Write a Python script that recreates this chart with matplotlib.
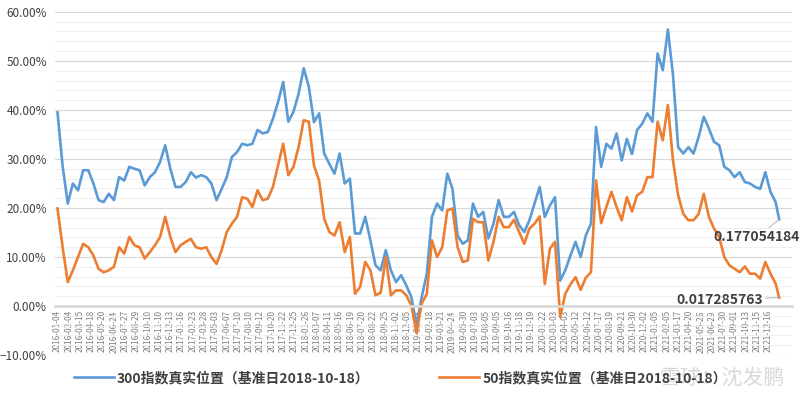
import matplotlib.pyplot as plt
import numpy as np
import matplotlib as mpl
from matplotlib.ticker import PercentFormatter

mpl.rcParams['font.family'] = ['Noto Sans CJK SC', 'DejaVu Sans']

# 数据：交易日序号（每10个交易日取一点，最后一点为末日），数值单位为%
day_idx = np.append(np.arange(0, 1401, 10), 1407)
hs300 = np.array([
    39.5, 28.5, 20.9, 25.0, 23.6, 27.7, 27.7, 25.0, 21.6, 21.2,
    22.9, 21.6, 26.3, 25.6, 28.4, 28.0, 27.7, 24.6, 26.3, 27.3,
    29.4, 32.8, 28.0, 24.3, 24.3, 25.3, 27.3, 26.2, 26.7, 26.3,
    25.0, 21.6, 23.9, 26.3, 30.4, 31.4, 33.1, 32.8, 33.1, 35.9,
    35.2, 35.5, 38.2, 41.6, 45.7, 37.6, 39.6, 43.3, 48.5, 44.7,
    37.5, 39.3, 31.1, 29.0, 27.0, 31.1, 25.0, 26.0, 14.8, 14.8,
    18.2, 13.4, 8.3, 7.3, 11.4, 7.3, 4.9, 6.3, 4.2, 1.8,
    -4.0, 1.8, 6.6, 18.2, 20.9, 19.5, 27.0, 23.9, 14.4, 12.7,
    13.4, 20.9, 18.2, 19.2, 13.8, 16.8, 21.6, 18.2, 18.2, 19.2,
    16.5, 15.1, 17.5, 20.9, 24.3, 18.2, 20.5, 22.2, 5.2, 7.3,
    10.3, 13.1, 10.0, 14.4, 16.8, 36.5, 28.4, 33.1, 32.1, 35.2,
    29.7, 34.1, 31.0, 35.9, 37.2, 39.3, 37.6, 51.5, 48.1, 56.4,
    47.1, 32.4, 31.1, 32.4, 31.1, 34.5, 38.6, 36.2, 33.5, 32.8,
    28.4, 27.7, 26.3, 27.3, 25.3, 25.0, 24.3, 23.9, 27.3, 23.3,
    21.2, 17.7054184]) / 100
sz50 = np.array([
    19.9, 12.0, 4.9, 7.3, 10.0, 12.7, 12.0, 10.3, 7.6, 6.9,
    7.3, 8.0, 12.0, 10.7, 14.1, 12.4, 12.0, 9.7, 11.0, 12.4,
    14.1, 18.2, 14.1, 11.0, 12.4, 13.1, 13.7, 12.0, 11.7, 12.0,
    10.0, 8.6, 11.4, 15.1, 16.8, 18.2, 22.2, 21.9, 20.2, 23.6,
    21.6, 21.9, 24.3, 28.7, 33.1, 26.7, 28.4, 32.4, 37.9, 37.6,
    28.7, 25.6, 17.8, 15.1, 14.4, 17.1, 11.0, 14.1, 2.5, 3.9,
    9.0, 7.3, 2.2, 2.7, 10.0, 2.2, 3.2, 3.2, 2.2, 0.1,
    -5.5, 0.5, 2.5, 13.4, 10.0, 12.0, 19.5, 19.9, 12.0, 9.0,
    9.3, 17.8, 17.1, 17.1, 9.3, 13.1, 18.2, 16.1, 16.1, 17.6,
    15.1, 12.7, 15.8, 16.8, 18.3, 4.5, 11.7, 13.1, -2.2, 2.5,
    4.4, 5.9, 3.3, 5.8, 6.9, 25.6, 16.9, 20.2, 23.3, 20.2,
    17.5, 22.2, 19.3, 22.6, 23.3, 26.3, 26.3, 37.6, 33.8, 41.0,
    29.7, 22.6, 18.8, 17.5, 17.5, 18.8, 22.9, 18.2, 15.8, 14.1,
    10.0, 8.3, 7.6, 6.9, 8.1, 6.6, 6.6, 5.6, 9.0, 6.6,
    4.6, 1.7285763]) / 100
dates = ['2016-01-04', '2016-02-04', '2016-03-15', '2016-04-18', '2016-05-20', '2016-06-24',
         '2016-07-27', '2016-08-29', '2016-10-10', '2016-11-10', '2016-12-13', '2017-01-16',
         '2017-02-23', '2017-03-28', '2017-05-03', '2017-06-07', '2017-07-10', '2017-08-10',
         '2017-09-12', '2017-10-20', '2017-11-22', '2017-12-25', '2018-01-26', '2018-03-07',
         '2018-04-11', '2018-05-16', '2018-06-19', '2018-07-20', '2018-08-22', '2018-09-25',
         '2018-11-02', '2018-12-05', '2019-01-08', '2019-02-18', '2019-03-21', '2019-04-24',
         '2019-05-30', '2019-07-03', '2019-08-05', '2019-09-05', '2019-10-16', '2019-11-18',
         '2019-12-19', '2020-01-22', '2020-03-03', '2020-04-03', '2020-05-12', '2020-06-12',
         '2020-07-17', '2020-08-19', '2020-09-21', '2020-10-30', '2020-12-02', '2021-01-05',
         '2021-02-05', '2021-03-17', '2021-04-20', '2021-05-26', '2021-06-29', '2021-07-30',
         '2021-09-01', '2021-10-13', '2021-11-15', '2021-12-16']
label_step = 22  # 每22个交易日一个刻度标签
legend_labels = ['300指数真实位置（基准日2018-10-18）', '50指数真实位置（基准日2018-10-18）']

fig = plt.figure(figsize=(8, 3.95), dpi=100)
ax = fig.add_axes([0.069, 0.101, 0.921, 0.869])

ax.plot(day_idx, hs300, color='#5B9BD5', lw=1.9, label=legend_labels[0])
ax.plot(day_idx, sz50, color='#ED7D31', lw=1.9, label=legend_labels[1])

ax.set_xlim(-4.5, 1432)
ax.set_ylim(-0.10, 0.60)
ax.set_yticks(np.arange(-1, 7) / 10)
ax.set_yticks(np.arange(-5, 31) / 50, minor=True)
ax.yaxis.set_major_formatter(PercentFormatter(1.0, decimals=2))
ax.grid(axis='y', which='major', color='#d9d9d9', lw=0.9)
ax.grid(axis='y', which='minor', color='#efefef', lw=0.8)
ax.set_axisbelow(True)

ax.set_xticks(np.arange(len(dates)) * label_step)
ax.set_xticklabels(dates)
for s in ['top', 'right', 'left']:
    ax.spines[s].set_visible(False)
ax.spines['bottom'].set_position(('data', 0))
ax.spines['bottom'].set_color('#d9d9d9')
ax.spines['bottom'].set_linewidth(2)
ax.tick_params(axis='both', which='both', length=0)
ax.tick_params(axis='y', labelsize=8.5, labelcolor='#404040', pad=6)
ax.tick_params(axis='x', pad=3, labelrotation=90, labelsize=5.9, labelcolor='#7f7f7f')

# 末值标注
ax.annotate(f'{hs300[-1]:.9f}', xy=(day_idx[-1], hs300[-1]), xytext=(-16, -13),
            textcoords='offset points', ha='center', va='center', fontsize=10,
            fontweight='bold', color='#404040',
            arrowprops=dict(arrowstyle='-', color='#a6a6a6', lw=0.6, shrinkA=0, shrinkB=0))
ax.annotate(f'{sz50[-1]:.9f}', xy=(day_idx[-1], sz50[-1]), xytext=(-43, -1.5),
            textcoords='offset points', ha='center', va='center', fontsize=10,
            fontweight='bold', color='#404040',
            arrowprops=dict(arrowstyle='-', color='#a6a6a6', lw=0.6, shrinkA=0, shrinkB=0))

fig.legend(loc='center', bbox_to_anchor=(0.5005, 0.043), ncol=2, frameon=False,
           prop={'size': 10, 'weight': 'bold'}, handlelength=2.9, handletextpad=0.2,
           columnspacing=5.0, labelcolor='#404040')

# 水印
fig.text(0.903, 0.045, '雪球：沈发鹏', fontsize=15, color='#c8c8c8', alpha=0.7,
         ha='center', va='center')

plt.savefig('out.png', dpi=100)
